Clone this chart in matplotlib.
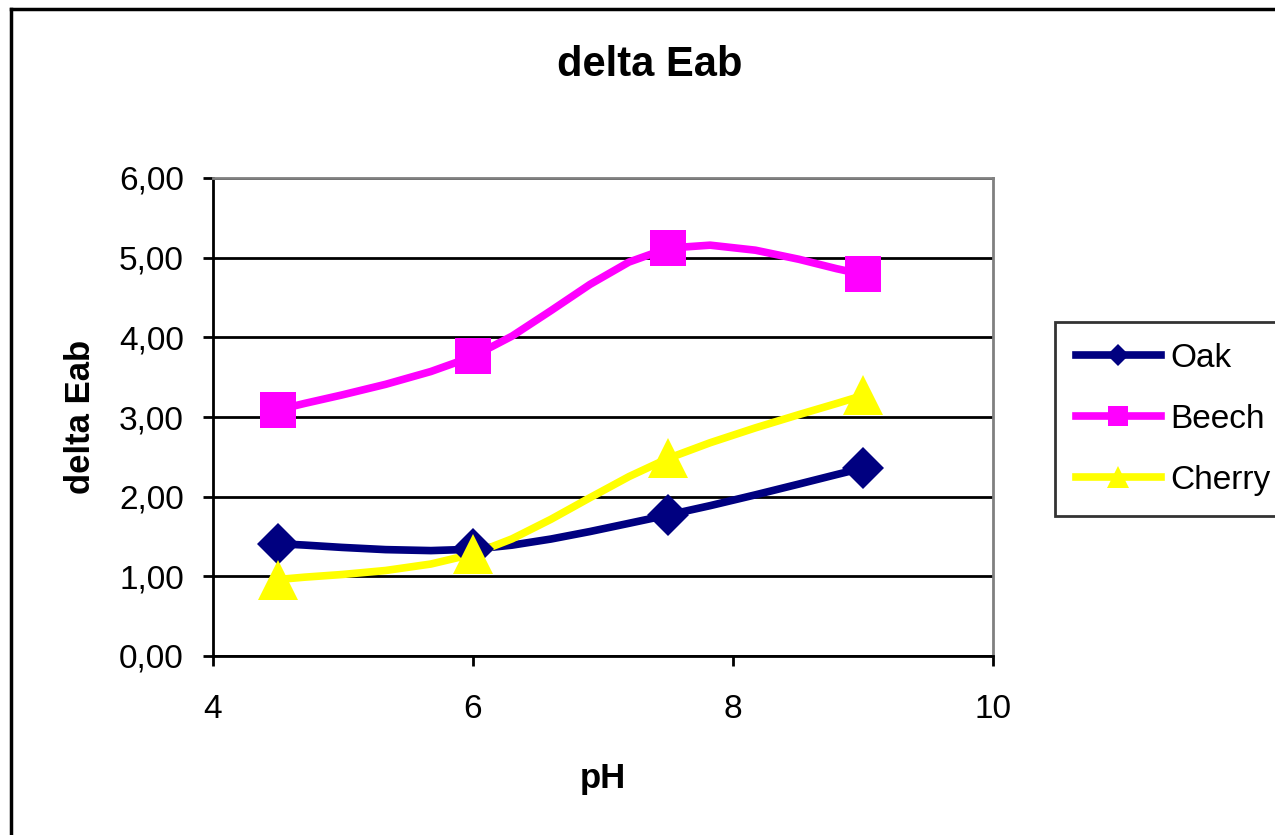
import numpy as np
import matplotlib
matplotlib.use('Agg')
import matplotlib.pyplot as plt
from matplotlib.lines import Line2D

plt.rcParams['font.family'] = ['Liberation Sans', 'DejaVu Sans']

# data
ph     = [4.5, 6.0, 7.5, 9.0]
oak    = [1.41, 1.34, 1.77, 2.36]
beech  = [3.09, 3.76, 5.12, 4.79]
cherry = [0.96, 1.28, 2.48, 3.27]

series = [
    ('Oak',    oak,    '#000080', 'D', 21),
    ('Beech',  beech,  '#FF00FF', 's', 26),
    ('Cherry', cherry, '#FFFF00', '^', 29),
]

def smooth_line(x, y, n=40):
    '''
    Bezier smoothing in the style of spreadsheet "smoothed line" charts.
    '''
    x = np.asarray(x, float)
    y = np.asarray(y, float)
    px = np.concatenate([[x[0]], x, [x[-1]]])
    py = np.concatenate([[y[0]], y, [y[-1]]])
    t = np.linspace(0, 1, n)
    xs, ys = [], []
    for i in range(1, len(px) - 2):
        b0 = np.array([px[i], py[i]])
        b3 = np.array([px[i+1], py[i+1]])
        b1 = b0 + (np.array([px[i+1], py[i+1]]) - np.array([px[i-1], py[i-1]]))/6
        b2 = b3 - (np.array([px[i+2], py[i+2]]) - np.array([px[i], py[i]]))/6
        pts = ((1-t)**3)[:, None]*b0 + (3*(1-t)**2*t)[:, None]*b1 \
            + (3*(1-t)*t**2)[:, None]*b2 + (t**3)[:, None]*b3
        xs.append(pts[:, 0])
        ys.append(pts[:, 1])
    return np.concatenate(xs), np.concatenate(ys)

fig = plt.figure(figsize=(12.75, 8.35), dpi=100, facecolor='white')
ax = fig.add_axes([213/1275, 1-656/835, (993-213)/1275, (656-178)/835])

for label, vals, color, marker, ms in series:
    sx, sy = smooth_line(ph, vals, n=6)
    ax.plot(sx, sy, color=color, linewidth=5.5, solid_joinstyle='round', zorder=3)
    ax.plot(ph, vals, linestyle='none', marker=marker, markersize=ms,
            color=color, markeredgewidth=0, zorder=4)

ax.set_xlim(4, 10)
ax.set_ylim(0, 6)
ax.set_xticks([4, 6, 8, 10])
ax.set_yticks(np.arange(0, 7, 1))
ax.set_yticklabels([f'{v:.2f}'.replace('.', ',') for v in np.arange(0, 7, 1)])
ax.tick_params(axis='both', labelsize=24, length=7, width=2, color='black')
ax.tick_params(axis='y', pad=14)
ax.tick_params(axis='x', pad=20)

ax.yaxis.grid(True, color='black', linewidth=2)
ax.set_axisbelow(True)
ax.spines['left'].set_linewidth(2)
ax.spines['bottom'].set_linewidth(2)
ax.spines['top'].set_color('#808080')
ax.spines['right'].set_color('#808080')
ax.spines['top'].set_linewidth(2)
ax.spines['right'].set_linewidth(2)

ax.set_xlabel('pH', fontsize=25, fontweight='bold')
ax.xaxis.set_label_coords(0.5, -0.222)
ax.set_ylabel('delta Eab', fontsize=25, fontweight='bold')
ax.yaxis.set_label_coords(-0.149, 0.5)

fig.text(650/1275, 1-65/835, 'delta Eab', fontsize=30, fontweight='bold',
         ha='center', va='center')

# legend
handles = [Line2D([], [], color=c, linewidth=5.5, marker=m, markersize=ms*0.55,
                  markeredgewidth=0) for _, _, c, m, ms in series]
leg = fig.legend(handles, [s[0] for s in series], loc='upper left',
                 bbox_to_anchor=(1055/1275, 1-322/835), fontsize=24,
                 frameon=True, fancybox=False, edgecolor='black',
                 handlelength=2.55, handletextpad=0.3, labelspacing=0.9,
                 borderpad=0.62, borderaxespad=0)
leg.get_frame().set_linewidth(2)

# outer chart frame (only left and top edges visible)
fig.add_artist(Line2D([11/1275, 11/1275], [-0.05, 1-9/835], color='black',
                      linewidth=2.5, transform=fig.transFigure))
fig.add_artist(Line2D([11/1275, 1.05], [1-9/835, 1-9/835], color='black',
                      linewidth=2.5, transform=fig.transFigure))

plt.savefig('out.png', dpi=100, facecolor='white')
